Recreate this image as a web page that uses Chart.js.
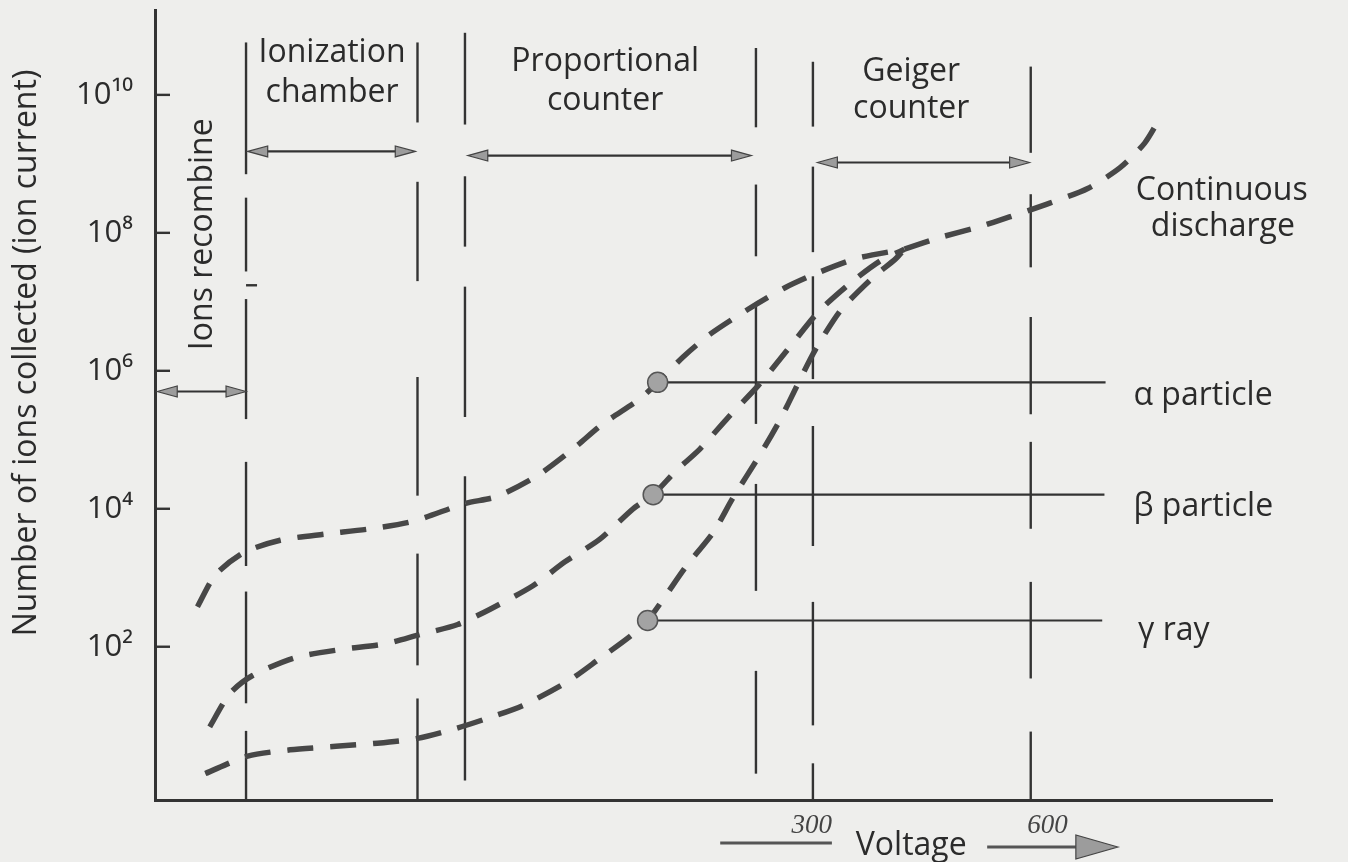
<!DOCTYPE html>
<html>
<head>
<meta charset="utf-8">
<script src="https://cdn.jsdelivr.net/npm/chart.js@4.4.1/dist/chart.umd.min.js"></script>
<style>
  html, body { margin: 0; padding: 0; background: #eeeeec; }
  canvas { display: block; }
</style>
</head>
<body>
<canvas id="chart" width="1348" height="862"></canvas>
<script>
// voltage runs in relative units 0..100, only 300 and 600 are marked
var xTickValues = [58.8, 79.9];
var xTickLabels = ["300", "600"];

var yTickValues = [1e2, 1e4, 1e6, 1e8, 1e10];
var yTickLabels = ["10²", "10⁴", "10⁶", "10⁸", "10¹⁰"];

// alpha particle curve
var alphaX = [3.8, 5.4, 7.9, 11.2, 15.2, 19.2, 23.1, 27.8, 30.6, 34.2, 37.4, 40.1, 43.4, 45.0, 47.3, 49.7, 53.1, 56.4, 59.5, 62.9, 67.1];
var alphaY = [3.8e2, 1.1e3, 2.3e3, 3.5e3, 4.3e3, 5.1e3, 6.6e3, 1.2e4, 1.5e4, 3.0e4, 7.3e4, 1.7e5, 3.9e5, 6.8e5, 1.6e6, 3.4e6, 7.8e6, 1.6e7, 2.7e7, 4.3e7, 5.8e7];
var alphaDot = 13;

// beta particle curve
var betaX = [4.9, 6.7, 8.7, 12.5, 16.6, 20.6, 23.7, 27.1, 30.0, 33.8, 36.7, 39.8, 42.8, 44.6, 46.6, 48.8, 51.3, 54.0, 56.5, 59.4, 62.3, 64.9, 67.1];
var betaY = [6.9, 21, 38, 69, 91, 110, 150, 210, 350, 760, 1.7e3, 3.6e3, 1.0e4, 1.6e4, 3.5e4, 7.4e4, 2.1e5, 6.1e5, 1.9e6, 7.2e6, 1.9e7, 3.9e7, 5.8e7];
var betaDot = 13;

// gamma ray curve
var gammaX = [4.5, 8.3, 12.1, 16.2, 19.9, 23.5, 26.9, 29.7, 32.9, 36.9, 39.8, 42.5, 44.1, 45.5, 47.6, 50.0, 51.7, 54.2, 56.0, 57.5, 59.1, 61.4, 64.2, 66.3, 67.1];
var gammaY = [1.45, 2.6, 3.2, 3.6, 4.0, 4.7, 6.5, 9.1, 14, 31, 67, 140, 240, 490, 1.5e3, 4.6e3, 1.4e4, 6.2e4, 2.0e5, 6.2e5, 2.0e6, 7.6e6, 2.2e7, 4.2e7, 5.8e7];
var gammaDot = 12;

// shared part after the curves meet (continuous discharge)
var dischargeX = [67.1, 70.3, 73.6, 76.5, 80.1, 83.5, 86.4, 88.6, 90.0];
var dischargeY = [5.8e7, 8.6e7, 1.2e8, 1.7e8, 2.7e8, 4.4e8, 8.8e8, 2.0e9, 4.7e9];

var FONT = "'Open Sans', 'DejaVu Sans', sans-serif";
var INK = "#2b2b2b";

function points(xs, ys) {
    return xs.map(function (x, i) { return {x: x, y: ys[i]}; });
}

function curve(xs, ys, dot, inner) {
    return {
        data: points(xs, ys),
        borderColor: inner ? "#b4b4b4" : "#474747",
        borderWidth: inner ? 2.2 : 5.5,
        borderDash: [26, 17],
        tension: 0.25,
        fill: false,
        pointRadius: function (c) { return (!inner && c.dataIndex === dot) ? 10 : 0; },
        pointBackgroundColor: "#a3a3a3",
        pointBorderColor: "#555",
        pointBorderWidth: 1.5
    };
}

// region dividers: x position, then drawn spans as powers of ten (-1 = down to the axis)
var dividers = [
    {x: 8.15, spans: [[10.76, 8.85], [8.51, 7.44], [7.04, 5.30], [4.68, 3.17], [2.80, 1.18], [0.78, -1]]},
    {x: 23.5, spans: [[10.76, 9.60], [8.74, 7.30], [5.91, 4.19], [3.35, 1.73], [1.25, -1]]},
    {x: 27.75, spans: [[10.90, 9.57], [8.82, 7.80], [7.22, 5.33], [4.47, 0.06]]},
    {x: 53.8, spans: [[10.68, 9.53], [8.70, 7.66], [6.93, 5.23], [4.36, 2.81], [1.65, 0.16]]},
    {x: 58.9, spans: [[10.48, 9.54], [8.96, 7.72], [7.37, 5.88], [5.20, 3.46], [2.65, 0.86], [0.31, -1]]},
    {x: 78.4, spans: [[10.41, 9.16], [8.56, 7.50], [6.78, 5.37], [4.97, 3.71], [2.94, 1.54], [0.77, -1]]}
];

var spanArrows = [
    {x1: 0.2, x2: 8.15, e: 5.70},
    {x1: 8.3, x2: 23.3, e: 9.18},
    {x1: 28.0, x2: 53.4, e: 9.12},
    {x1: 59.3, x2: 78.3, e: 9.02}
];

var leaders = [
    {x1: 45.0, x2: 85.1, v: 6.8e5},
    {x1: 44.6, x2: 85.0, v: 1.6e4},
    {x1: 44.1, x2: 84.8, v: 240}
];

var labels = [
    {t: "Ionization", x: 15.85, e: 10.61, align: "center"},
    {t: "chamber", x: 15.85, e: 10.03, align: "center"},
    {t: "Proportional", x: 40.3, e: 10.48, align: "center"},
    {t: "counter", x: 40.3, e: 9.92, align: "center"},
    {t: "Geiger", x: 67.7, e: 10.34, align: "center"},
    {t: "counter", x: 67.7, e: 9.79, align: "center"},
    {t: "Continuous", x: 95.5, e: 8.61, align: "center"},
    {t: "discharge", x: 95.6, e: 8.08, align: "center"},
    {t: "α particle", x: 87.6, e: 5.63, align: "left"},
    {t: "β particle", x: 87.6, e: 4.03, align: "left"},
    {t: "γ ray", x: 88.0, e: 2.23, align: "left"}
];

function arrowHead(ctx, x, y, dir, len, half) {
    ctx.beginPath();
    ctx.moveTo(x, y);
    ctx.lineTo(x - dir * len, y - half);
    ctx.lineTo(x - dir * len, y + half);
    ctx.closePath();
    ctx.fillStyle = "#9c9c9c";
    ctx.fill();
    ctx.lineWidth = 1.2;
    ctx.strokeStyle = "#444";
    ctx.stroke();
}

var decorations = {
    id: "decorations",
    beforeDatasetsDraw: function (chart) {
        var ctx = chart.ctx, xs = chart.scales.x, ys = chart.scales.y, area = chart.chartArea;
        var py = function (e) { return e < 0 ? area.bottom : ys.getPixelForValue(Math.pow(10, e)); };
        ctx.save();
        ctx.strokeStyle = "#333";
        ctx.lineWidth = 2.4;
        dividers.forEach(function (d) {
            var x = xs.getPixelForValue(d.x);
            d.spans.forEach(function (s) {
                ctx.beginPath();
                ctx.moveTo(x, py(s[0]));
                ctx.lineTo(x, py(s[1]));
                ctx.stroke();
            });
        });
        // small mark on the recombination boundary
        var mx = xs.getPixelForValue(8.15), my = py(7.24);
        ctx.beginPath(); ctx.moveTo(mx, my); ctx.lineTo(mx + 11, my); ctx.stroke();

        // inward tick marks on the y axis
        yTickValues.forEach(function (v) {
            var y = ys.getPixelForValue(v);
            ctx.beginPath(); ctx.moveTo(area.left, y); ctx.lineTo(area.left + 15, y); ctx.stroke();
        });

        // leader lines to the particle labels
        ctx.lineWidth = 2.2;
        leaders.forEach(function (l) {
            var y = ys.getPixelForValue(l.v);
            ctx.beginPath();
            ctx.moveTo(xs.getPixelForValue(l.x1), y);
            ctx.lineTo(xs.getPixelForValue(l.x2), y);
            ctx.stroke();
        });

        // double arrows for the regions
        spanArrows.forEach(function (a) {
            var x1 = xs.getPixelForValue(a.x1), x2 = xs.getPixelForValue(a.x2), y = py(a.e);
            ctx.strokeStyle = "#333";
            ctx.lineWidth = 2.2;
            ctx.beginPath(); ctx.moveTo(x1 + 10, y); ctx.lineTo(x2 - 10, y); ctx.stroke();
            arrowHead(ctx, x1, y, -1, 20, 5.5);
            arrowHead(ctx, x2, y, 1, 20, 5.5);
        });
        ctx.restore();
    },
    afterDraw: function (chart) {
        var ctx = chart.ctx, xs = chart.scales.x, ys = chart.scales.y, area = chart.chartArea;
        ctx.save();
        ctx.fillStyle = INK;
        ctx.font = "32px " + FONT;
        ctx.textBaseline = "middle";
        labels.forEach(function (l) {
            ctx.textAlign = l.align;
            ctx.fillText(l.t, xs.getPixelForValue(l.x), ys.getPixelForValue(Math.pow(10, l.e)));
        });

        // rotated texts
        ctx.textAlign = "center";
        ctx.save();
        ctx.translate(27, 353);
        ctx.rotate(-Math.PI / 2);
        ctx.fillText("Number of ions collected (ion current)", 0, 0);
        ctx.restore();
        ctx.save();
        ctx.translate(xs.getPixelForValue(4.3), ys.getPixelForValue(Math.pow(10, 7.98)));
        ctx.rotate(-Math.PI / 2);
        ctx.fillText("Ions recombine", 0, 0);
        ctx.restore();

        // Voltage caption with its arrow
        var yb = area.bottom + 46;
        ctx.fillText("Voltage", xs.getPixelForValue(67.7), yb);
        ctx.strokeStyle = "#555";
        ctx.lineWidth = 3;
        ctx.beginPath();
        ctx.moveTo(xs.getPixelForValue(50.6), yb - 3);
        ctx.lineTo(xs.getPixelForValue(60.6), yb - 3);
        ctx.stroke();
        var hx = xs.getPixelForValue(86.2);
        ctx.beginPath();
        ctx.moveTo(xs.getPixelForValue(74.5), yb + 1);
        ctx.lineTo(hx - 38, yb + 1);
        ctx.stroke();
        arrowHead(ctx, hx, yb + 1, 1, 42, 12);
        ctx.restore();
    }
};

var ctx = document.getElementById("chart");

var chart = new Chart(ctx, {
    type: "line",
    data: {
        datasets: [
            curve(alphaX, alphaY, alphaDot, false),
            curve(alphaX, alphaY, alphaDot, true),
            curve(betaX, betaY, betaDot, false),
            curve(betaX, betaY, betaDot, true),
            curve(gammaX, gammaY, gammaDot, false),
            curve(gammaX, gammaY, gammaDot, true),
            curve(dischargeX, dischargeY, -1, false),
            curve(dischargeX, dischargeY, -1, true)
        ]
    },
    options: {
        responsive: false,
        animation: false,
        layout: {padding: {top: 10, right: 76, left: 0, bottom: 0}},
        plugins: {legend: {display: false}, tooltip: {enabled: false}},
        scales: {
            x: {
                type: "linear",
                min: 0,
                max: 100,
                afterBuildTicks: function (scale) {
                    scale.ticks = xTickValues.map(function (v) { return {value: v}; });
                },
                afterFit: function (scale) {
                    scale.height = 62;
                    scale.paddingLeft = 0;
                    scale.paddingRight = 0;
                },
                ticks: {
                    padding: 10,
                    color: "#444",
                    font: {family: "'Liberation Serif', serif", style: "italic", size: 27},
                    callback: function (value, index) { return xTickLabels[index]; }
                },
                grid: {drawOnChartArea: false, drawTicks: false},
                border: {display: true, color: "#333", width: 3}
            },
            y: {
                type: "logarithmic",
                min: 0.63,
                max: 1.7e11,
                afterBuildTicks: function (scale) {
                    scale.ticks = yTickValues.map(function (v) { return {value: v}; });
                },
                afterFit: function (scale) {
                    scale.width = 155;
                    scale.paddingTop = 0;
                    scale.paddingBottom = 0;
                },
                ticks: {
                    padding: 22,
                    color: INK,
                    font: {family: FONT, size: 31},
                    callback: function (value, index) { return yTickLabels[index]; }
                },
                grid: {drawOnChartArea: false, drawTicks: false},
                border: {display: true, color: "#333", width: 3}
            }
        }
    },
    plugins: [decorations]
});
</script>
</body>
</html>
